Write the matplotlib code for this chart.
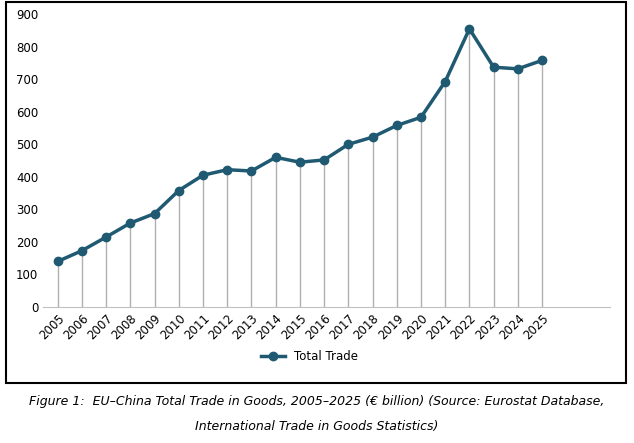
import matplotlib
matplotlib.use("Agg")
import matplotlib.pyplot as plt
from matplotlib.patches import Rectangle

years = [str(y) for y in range(2005, 2026)]
total_trade = [140, 173, 215, 258, 287, 358, 405, 422, 418, 460, 445, 452,
               500, 522, 558, 583, 693, 855, 737, 732, 758]
yticks = list(range(0, 1000, 100))

fig = plt.figure(figsize=(6.34, 4.43), dpi=100)
ax = fig.add_axes([0.068, 0.307, 0.894, 0.661])
x = list(range(len(years)))
ax.vlines(x, 0, total_trade, color="#b0b0b0", lw=1.0, zorder=1)
ax.plot(x, total_trade, color="#1f5a72", lw=2.5, marker="o", ms=6,
        label="Total Trade", zorder=3)
ax.set_xlim(-0.6, 22.8)
ax.set_ylim(0, 900)
ax.set_yticks(yticks)
ax.set_xticks(x)
ax.set_xticklabels(years, rotation=45, ha="right", rotation_mode="anchor", fontsize=8.5)
ax.tick_params(axis="y", labelsize=8.5, length=0)
ax.tick_params(axis="x", length=0)
for s in ["top", "right", "left"]:
    ax.spines[s].set_visible(False)
ax.spines["bottom"].set_color("#c0c0c0")
ax.legend(loc="upper center", bbox_to_anchor=(0.47, -0.11), frameon=False, fontsize=8.5)

fig.patches.append(Rectangle((0.01, 0.135), 0.978, 0.86, transform=fig.transFigure,
                             fill=False, edgecolor="black", lw=1.5))
fig.text(0.5, 0.085, "Figure 1:  EU–China Total Trade in Goods, 2005–2025 (€ billion) (Source: Eurostat Database,",
         ha="center", fontsize=9, style="italic")
fig.text(0.5, 0.03, "International Trade in Goods Statistics)", ha="center", fontsize=9, style="italic")
fig.savefig("out.png", dpi=100)
